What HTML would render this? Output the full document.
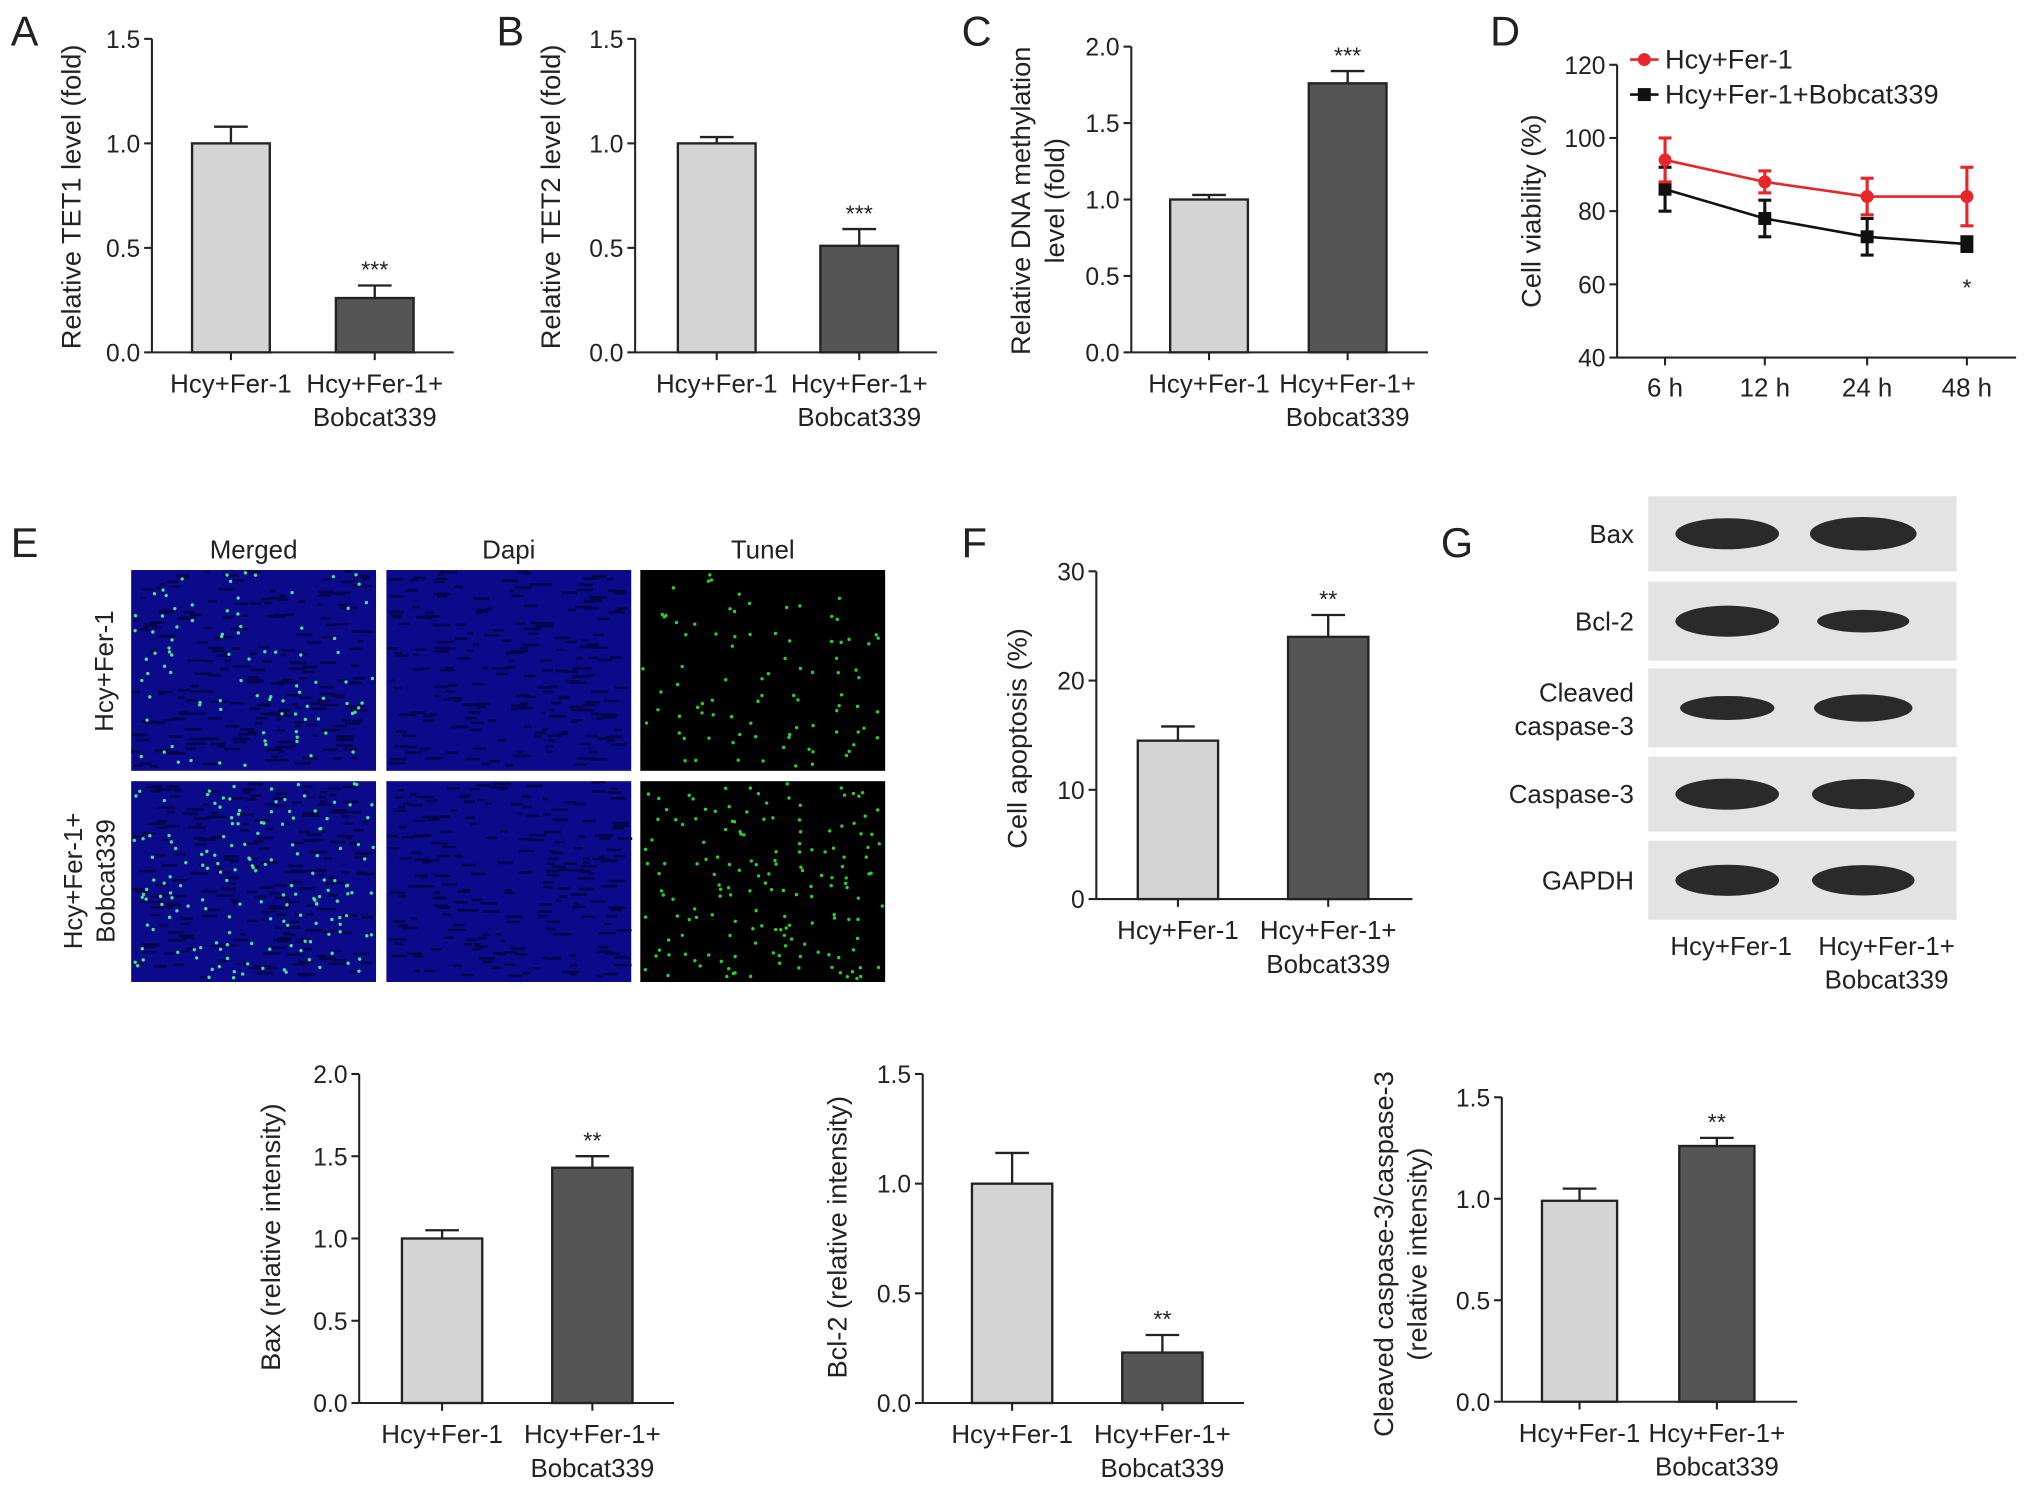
<!DOCTYPE html>
<html><head><meta charset="utf-8"><style>
html,body{margin:0;padding:0;background:#fff;}
svg{display:block;font-family:"Liberation Sans",Arial,sans-serif;}
</style></head><body>
<svg id="fig" width="2032" height="1495" viewBox="0 0 1568 1154" xmlns="http://www.w3.org/2000/svg">
<g id="root"></g>
</svg>
<script>
// ---- data ----
const groupLabels = ["Hcy+Fer-1", "Hcy+Fer-1+", "Bobcat339"];
const tet1Values = [1.0, 0.26];
const tet1Errors = [0.08, 0.06];
const tet2Values = [1.0, 0.51];
const tet2Errors = [0.03, 0.08];
const methValues = [1.0, 1.76];
const methErrors = [0.03, 0.08];
const apopValues = [14.5, 24.0];
const apopErrors = [1.3, 2.0];
const baxValues = [1.0, 1.43];
const baxErrors = [0.05, 0.07];
const bcl2Values = [1.0, 0.23];
const bcl2Errors = [0.14, 0.08];
const caspValues = [0.99, 1.26];
const caspErrors = [0.06, 0.04];
const timeLabels = ["6 h", "12 h", "24 h", "48 h"];
const ferValues = [94, 88, 84, 84];
const ferErrors = [6, 3, 5, 8];
const bobValues = [86, 78, 73, 71];
const bobErrors = [6, 5, 5, 2];
const tick15 = ["0.0", "0.5", "1.0", "1.5"];
const tick20 = ["0.0", "0.5", "1.0", "1.5", "2.0"];
const tick30 = ["0", "10", "20", "30"];
const tickViab = ["40", "60", "80", "100", "120"];

const NS = "http://www.w3.org/2000/svg";
const root = document.getElementById("root");
function mk(tag, attrs, parent) {
  const e = document.createElementNS(NS, tag);
  for (const k in attrs) e.setAttribute(k, attrs[k]);
  (parent || root).appendChild(e);
  return e;
}
function txt(s, x, y, size, anchor, parent, rot) {
  const t = mk("text", {x: x, y: y, "font-size": size, "text-anchor": anchor || "middle", fill: "#222"}, parent);
  if (rot) t.setAttribute("transform", "rotate(-90 " + x + " " + y + ")");
  t.textContent = s;
  return t;
}

function barChart(name, o) {
  const g = mk("g", {});
  
  
  const yS = v => o.y0 - (v - o.min) / (o.max - o.min) * (o.y0 - o.y1);
  const ax = mk("line", {x1: o.ax, y1: o.y1, x2: o.ax, y2: o.y0, stroke: "#222", "stroke-width": 1.6}, g);
  
  
  o.ticks.forEach((t, i) => {
    const v = o.min + i * (o.max - o.min) / (o.ticks.length - 1);
    const y = yS(v);
    mk("line", {x1: o.ax - 6, y1: y, x2: o.ax, y2: y, stroke: "#222", "stroke-width": 1.6}, g);
    const tl = txt(t, o.ax - 9, y + 7, 19, "end", g);
    
    
  });
  const xa = mk("line", {x1: o.ax, y1: o.y0, x2: o.xend, y2: o.y0, stroke: "#222", "stroke-width": 1.6}, g);
  
  
  o.vals.forEach((v, i) => {
    const cx = o.cx[i], w = o.bw;
    const top = yS(v), etop = yS(v + o.errs[i]);
    mk("line", {x1: cx, y1: etop, x2: cx, y2: top, stroke: "#222", "stroke-width": 1.8}, g);
    mk("line", {x1: cx - 13, y1: etop, x2: cx + 13, y2: etop, stroke: "#222", "stroke-width": 1.8}, g);
    const b = mk("rect", {x: cx - w / 2, y: top, width: w, height: o.y0 - top, fill: i ? "#555" : "#d4d4d4", stroke: "#222", "stroke-width": 1.8}, g);
    
    
    mk("line", {x1: cx, y1: o.y0, x2: cx, y2: o.y0 + 6, stroke: "#222", "stroke-width": 1.6}, g);
  });
  txt(groupLabels[0], o.cx[0], o.y0 + 31, 20, "middle", g);
  txt(groupLabels[1], o.cx[1], o.y0 + 31, 20, "middle", g);
  txt(groupLabels[2], o.cx[1], o.y0 + 57, 20, "middle", g);
  if (o.stars) {
    const s = txt(o.stars, o.cx[1], yS(o.vals[1] + o.errs[1]) - 6, 18, "middle", g);
    
    
  }
  o.title.forEach((t, i) => {
    const yt = txt(t, o.tx + i * 26, o.ty, 21, "middle", g, true);
    
    
  });
  if (o.letter) {
    const L = txt(o.letter[0], o.letter[1], o.letter[2], 32, "start", g);
    
    
  }
}

barChart("chart-tet1", {ax:117,y0:272,y1:30,min:0,max:1.5,ticks:tick15,xend:350,cx:[178,289],bw:60,vals:tet1Values,errs:tet1Errors,stars:"***",title:["Relative TET1 level (fold)"],tx:62,ty:152,letter:["A",8,35]});
barChart("chart-tet2", {ax:490,y0:272,y1:30,min:0,max:1.5,ticks:tick15,xend:723,cx:[553,663],bw:60,vals:tet2Values,errs:tet2Errors,stars:"***",title:["Relative TET2 level (fold)"],tx:432,ty:152,letter:["B",383,35]});
barChart("chart-methylation", {ax:873,y0:272,y1:36,min:0,max:2.0,ticks:tick20,xend:1102,cx:[933,1040],bw:60,vals:methValues,errs:methErrors,stars:"***",title:["Relative DNA methylation","level (fold)"],tx:795,ty:155,letter:["C",742,35]});
barChart("chart-apoptosis", {ax:846,y0:694,y1:441,min:0,max:30,ticks:tick30,xend:1090,cx:[909,1025],bw:62,vals:apopValues,errs:apopErrors,stars:"**",title:["Cell apoptosis (%)"],tx:792,ty:570,letter:["F",742,430]});
barChart("chart-bax", {ax:277,y0:1083,y1:829,min:0,max:2.0,ticks:tick20,xend:520,cx:[341,457],bw:62,vals:baxValues,errs:baxErrors,stars:"**",title:["Bax (relative intensity)"],tx:216,ty:955});
barChart("chart-bcl2", {ax:712,y0:1083,y1:829,min:0,max:1.5,ticks:tick15,xend:960,cx:[781,897],bw:62,vals:bcl2Values,errs:bcl2Errors,stars:"**",title:["Bcl-2 (relative intensity)"],tx:653,ty:955});
barChart("chart-cleaved-caspase", {ax:1159,y0:1082,y1:847,min:0,max:1.5,ticks:tick15,xend:1387,cx:[1219,1325],bw:58,vals:caspValues,errs:caspErrors,stars:"**",title:["Cleaved caspase-3/caspase-3","(relative intensity)"],tx:1075,ty:968});

// ---- line chart D ----
(function(){
  const g = mk("g", {});
  
  
  const ax = 1248, y0 = 276, y1 = 50, mn = 40, mx = 120;
  const yS = v => y0 - (v - mn) / (mx - mn) * (y0 - y1);
  const xs = [1285, 1362, 1441, 1518];
  mk("line", {x1: ax, y1: y1, x2: ax, y2: y0, stroke: "#222", "stroke-width": 1.6}, g);
  mk("line", {x1: ax, y1: y0, x2: 1556, y2: y0, stroke: "#222", "stroke-width": 1.6}, g);
  tickViab.forEach(t => {
    const y = yS(+t);
    mk("line", {x1: ax - 6, y1: y, x2: ax, y2: y, stroke: "#222", "stroke-width": 1.6}, g);
    txt(t, ax - 9, y + 7, 19, "end", g);
  });
  timeLabels.forEach((t, i) => {
    mk("line", {x1: xs[i], y1: y0, x2: xs[i], y2: y0 + 6, stroke: "#222", "stroke-width": 1.6}, g);
    txt(t, xs[i], y0 + 30, 20, "middle", g);
  });
  function series(vals, errs, col, sq, name) {
    const sg = mk("g", {}, g);
    
    
    mk("polyline", {points: vals.map((v, i) => xs[i] + "," + yS(v)).join(" "), fill: "none", stroke: col, "stroke-width": 2}, sg);
    vals.forEach((v, i) => {
      const a = yS(v + errs[i]), b = yS(v - errs[i]);
      mk("line", {x1: xs[i], y1: a, x2: xs[i], y2: b, stroke: col, "stroke-width": 2.4}, sg);
      mk("line", {x1: xs[i] - 5, y1: a, x2: xs[i] + 5, y2: a, stroke: col, "stroke-width": 2.4}, sg);
      mk("line", {x1: xs[i] - 5, y1: b, x2: xs[i] + 5, y2: b, stroke: col, "stroke-width": 2.4}, sg);
      if (sq) mk("rect", {x: xs[i] - 5, y: yS(v) - 5, width: 10, height: 10, fill: col}, sg);
      else mk("circle", {cx: xs[i], cy: yS(v), r: 5, fill: col}, sg);
    });
  }
  series(bobValues, bobErrors, "#111", true, "series-bobcat339");
  series(ferValues, ferErrors, "#e8262a", false, "series-control");
  txt("*", xs[3], 228, 18, "middle", g);
  mk("line", {x1: 1258, y1: 46, x2: 1280, y2: 46, stroke: "#e8262a", "stroke-width": 2}, g);
  mk("circle", {cx: 1269, cy: 46, r: 5, fill: "#e8262a"}, g);
  const l1 = txt("Hcy+Fer-1", 1285, 53, 21, "start", g);
  
  
  mk("line", {x1: 1258, y1: 73, x2: 1280, y2: 73, stroke: "#111", "stroke-width": 2}, g);
  mk("rect", {x: 1264, y: 68, width: 10, height: 10, fill: "#111"}, g);
  const l2 = txt("Hcy+Fer-1+Bobcat339", 1285, 80, 21, "start", g);
  
  
  const yt = txt("Cell viability (%)", 1189, 163, 21, "middle", g, true);
  
  
  const L = txt("D", 1150, 35, 32, "start", g);
  
  
})();

// ---- panel E images ----
(function(){
  const g = mk("g", {});
  
  
  txt("E", 8, 430, 32, "start", g);
  const cols = [101, 298, 494], rows = [440, 603], W = 189, H = 155;
  ["Merged", "Dapi", "Tunel"].forEach((s, i) => txt(s, cols[i] + W / 2, 431, 20, "middle", g));
  txt("Hcy+Fer-1", 87, 518, 20, "middle", g, true);
  txt("Hcy+Fer-1+", 63, 680, 20, "middle", g, true);
  txt("Bobcat339", 88, 680, 20, "middle", g, true);
  let seed = 7;
  const rnd = () => (seed = (seed * 16807) % 2147483647) / 2147483647;
  rows.forEach((ry, r) => cols.forEach((cx, c) => {
    const im = mk("g", {}, g);
    
    
    mk("rect", {x: cx, y: ry, width: W, height: H, fill: c == 2 ? "#000" : "#0a0a8a"}, im);
    if (c < 2) {
      for (let k = 0; k < 220; k++) {
        mk("rect", {x: cx + rnd() * (W - 10), y: ry + rnd() * (H - 4), width: 4 + rnd() * 10, height: 2, fill: "#04044a"}, im);
      }
    }
    if (c != 1) {
      const n = r ? 160 : 90;
      for (let k = 0; k < n; k++) {
        mk("circle", {cx: cx + 2 + rnd() * (W - 4), cy: ry + 2 + rnd() * (H - 4), r: 1.3, fill: c == 0 ? "#4fe08a" : "#2bd12b"}, im);
      }
    }
  }));
})();

// ---- panel G blots ----
(function(){
  const g = mk("g", {});
  
  
  txt("G", 1112, 430, 32, "start", g);
  const rows = [[383,441,"Bax",[1,1.15]],[449,510,"Bcl-2",[1,0.45]],[516,577,"Cleaved|caspase-3",[0.55,0.75]],[584,642,"Caspase-3",[1,0.95]],[649,710,"GAPDH",[1,0.95]]];
  rows.forEach(r => {
    const bg = mk("g", {}, g);
    
    
    mk("rect", {x: 1272, y: r[0], width: 238, height: r[1] - r[0], fill: "#e3e3e3"}, bg);
    const cy = (r[0] + r[1]) / 2;
    [1333, 1438].forEach((x, i) => {
      const s = r[3][i];
      mk("ellipse", {cx: x, cy: cy, rx: 32 + 8 * s, ry: 6 + 6 * s, fill: "#151515", opacity: 0.9}, bg);
    });
    const parts = r[2].split("|");
    if (parts.length == 2) {
      txt(parts[0], 1261, cy - 5, 20, "end", bg);
      txt(parts[1], 1261, cy + 21, 20, "end", bg);
    } else txt(parts[0], 1261, cy + 7, 20, "end", bg);
  });
  txt("Hcy+Fer-1", 1336, 737, 20, "middle", g);
  txt("Hcy+Fer-1+", 1456, 737, 20, "middle", g);
  txt("Bobcat339", 1456, 763, 20, "middle", g);
})();
</script>
</body></html>
